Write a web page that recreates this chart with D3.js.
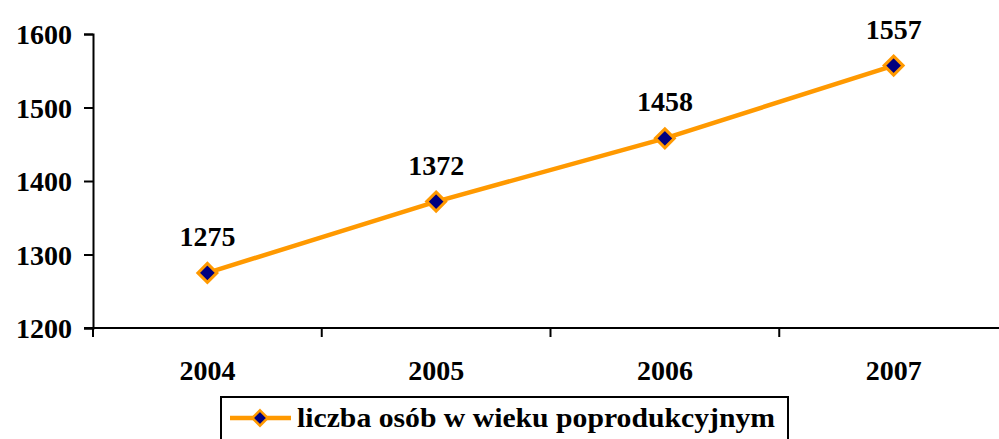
<!DOCTYPE html>
<html lang="pl">
<head>
<meta charset="UTF-8" />
<script src="https://cdn.jsdelivr.net/npm/d3@7"></script>
<style>
  * { margin: 0; padding: 0; }
  body { background: #fff; width: 999px; height: 439px; overflow: hidden; }
  svg { display: block; }
</style>
</head>
<body>
<div id="chart"></div>
<script>
const years = ['2004', '2005', '2006', '2007'];
const values = [1275, 1372, 1458, 1557];
const yTicks = [1200, 1300, 1400, 1500, 1600];
const seriesName = 'liczba osób w wieku poprodukcyjnym';

const width = 999, height = 439;
const plotLeft = 93, plotRight = 1008, plotTop = 34, plotBottom = 328;
const lineColor = '#FF9900', markerColor = '#000080';
const fontSize = 28;
const fontFamily = 'Liberation Serif';

const svg = d3.select('#chart').append('svg')
  .attr('width', width).attr('height', height);

const styleText = (sel) => sel
  .attr('font-family', fontFamily)
  .attr('font-weight', 'bold')
  .attr('font-size', fontSize)
  .attr('fill', '#000');

const x = d3.scaleBand().domain(years).range([plotLeft, plotRight]);
const y = d3.scaleLinear().domain([1200, 1600]).range([plotBottom, plotTop]);

// y axis
const yAxis = svg.append('g')
  .attr('transform', `translate(${plotLeft},0)`)
  .call(d3.axisLeft(y).tickValues(yTicks).tickFormat(d3.format('d')).tickSize(9).tickPadding(12));
yAxis.attr('font-family', fontFamily);
yAxis.select('.domain').attr('stroke', '#000').attr('stroke-width', 2);
yAxis.selectAll('.tick line').attr('stroke-width', 2);
yAxis.selectAll('.tick text').call(styleText).attr('dy', '0.34em');

// x axis: ticks at category boundaries
svg.append('line')
  .attr('x1', plotLeft - 9).attr('x2', plotRight)
  .attr('y1', plotBottom).attr('y2', plotBottom)
  .attr('stroke', '#000').attr('stroke-width', 2);
svg.append('g').selectAll('line')
  .data(years)
  .join('line')
  .attr('x1', (d) => x(d)).attr('x2', (d) => x(d))
  .attr('y1', plotBottom).attr('y2', plotBottom + 9)
  .attr('stroke', '#000').attr('stroke-width', 2);
svg.append('g').selectAll('text')
  .data(years)
  .join('text')
  .attr('x', (d) => x(d) + x.bandwidth() / 2)
  .attr('y', plotBottom + 52)
  .attr('text-anchor', 'middle')
  .call(styleText)
  .text((d) => d);

// line
const pts = years.map((d, i) => [x(d) + x.bandwidth() / 2, y(values[i])]);
svg.append('path')
  .attr('d', d3.line()(pts))
  .attr('fill', 'none')
  .attr('stroke', lineColor)
  .attr('stroke-width', 4.5);

const diamond = d3.symbol().type(d3.symbolDiamond2).size(230);
svg.append('g').selectAll('path')
  .data(pts)
  .join('path')
  .attr('transform', (d) => `translate(${d[0]},${d[1]})`)
  .attr('d', diamond)
  .attr('fill', markerColor)
  .attr('stroke', lineColor)
  .attr('stroke-width', 3);

svg.append('g').selectAll('text')
  .data(values)
  .join('text')
  .attr('x', (d, i) => pts[i][0])
  .attr('y', (d, i) => pts[i][1] - 27)
  .attr('text-anchor', 'middle')
  .call(styleText)
  .text((d) => d);

// legend
const lg = svg.append('g');
lg.append('rect')
  .attr('x', 221).attr('y', 397)
  .attr('width', 567).attr('height', 60)
  .attr('fill', '#fff').attr('stroke', '#000').attr('stroke-width', 2);
lg.append('line')
  .attr('x1', 230).attr('x2', 291)
  .attr('y1', 418).attr('y2', 418)
  .attr('stroke', lineColor).attr('stroke-width', 4.5);
lg.append('path')
  .attr('transform', 'translate(260,418)')
  .attr('d', d3.symbol().type(d3.symbolDiamond2).size(150))
  .attr('fill', markerColor)
  .attr('stroke', lineColor)
  .attr('stroke-width', 2.5);
lg.append('text')
  .attr('x', 297).attr('y', 427)
  .call(styleText)
  .attr('textLength', 478)
  .attr('lengthAdjust', 'spacingAndGlyphs')
  .text(seriesName);
</script>
</body>
</html>
